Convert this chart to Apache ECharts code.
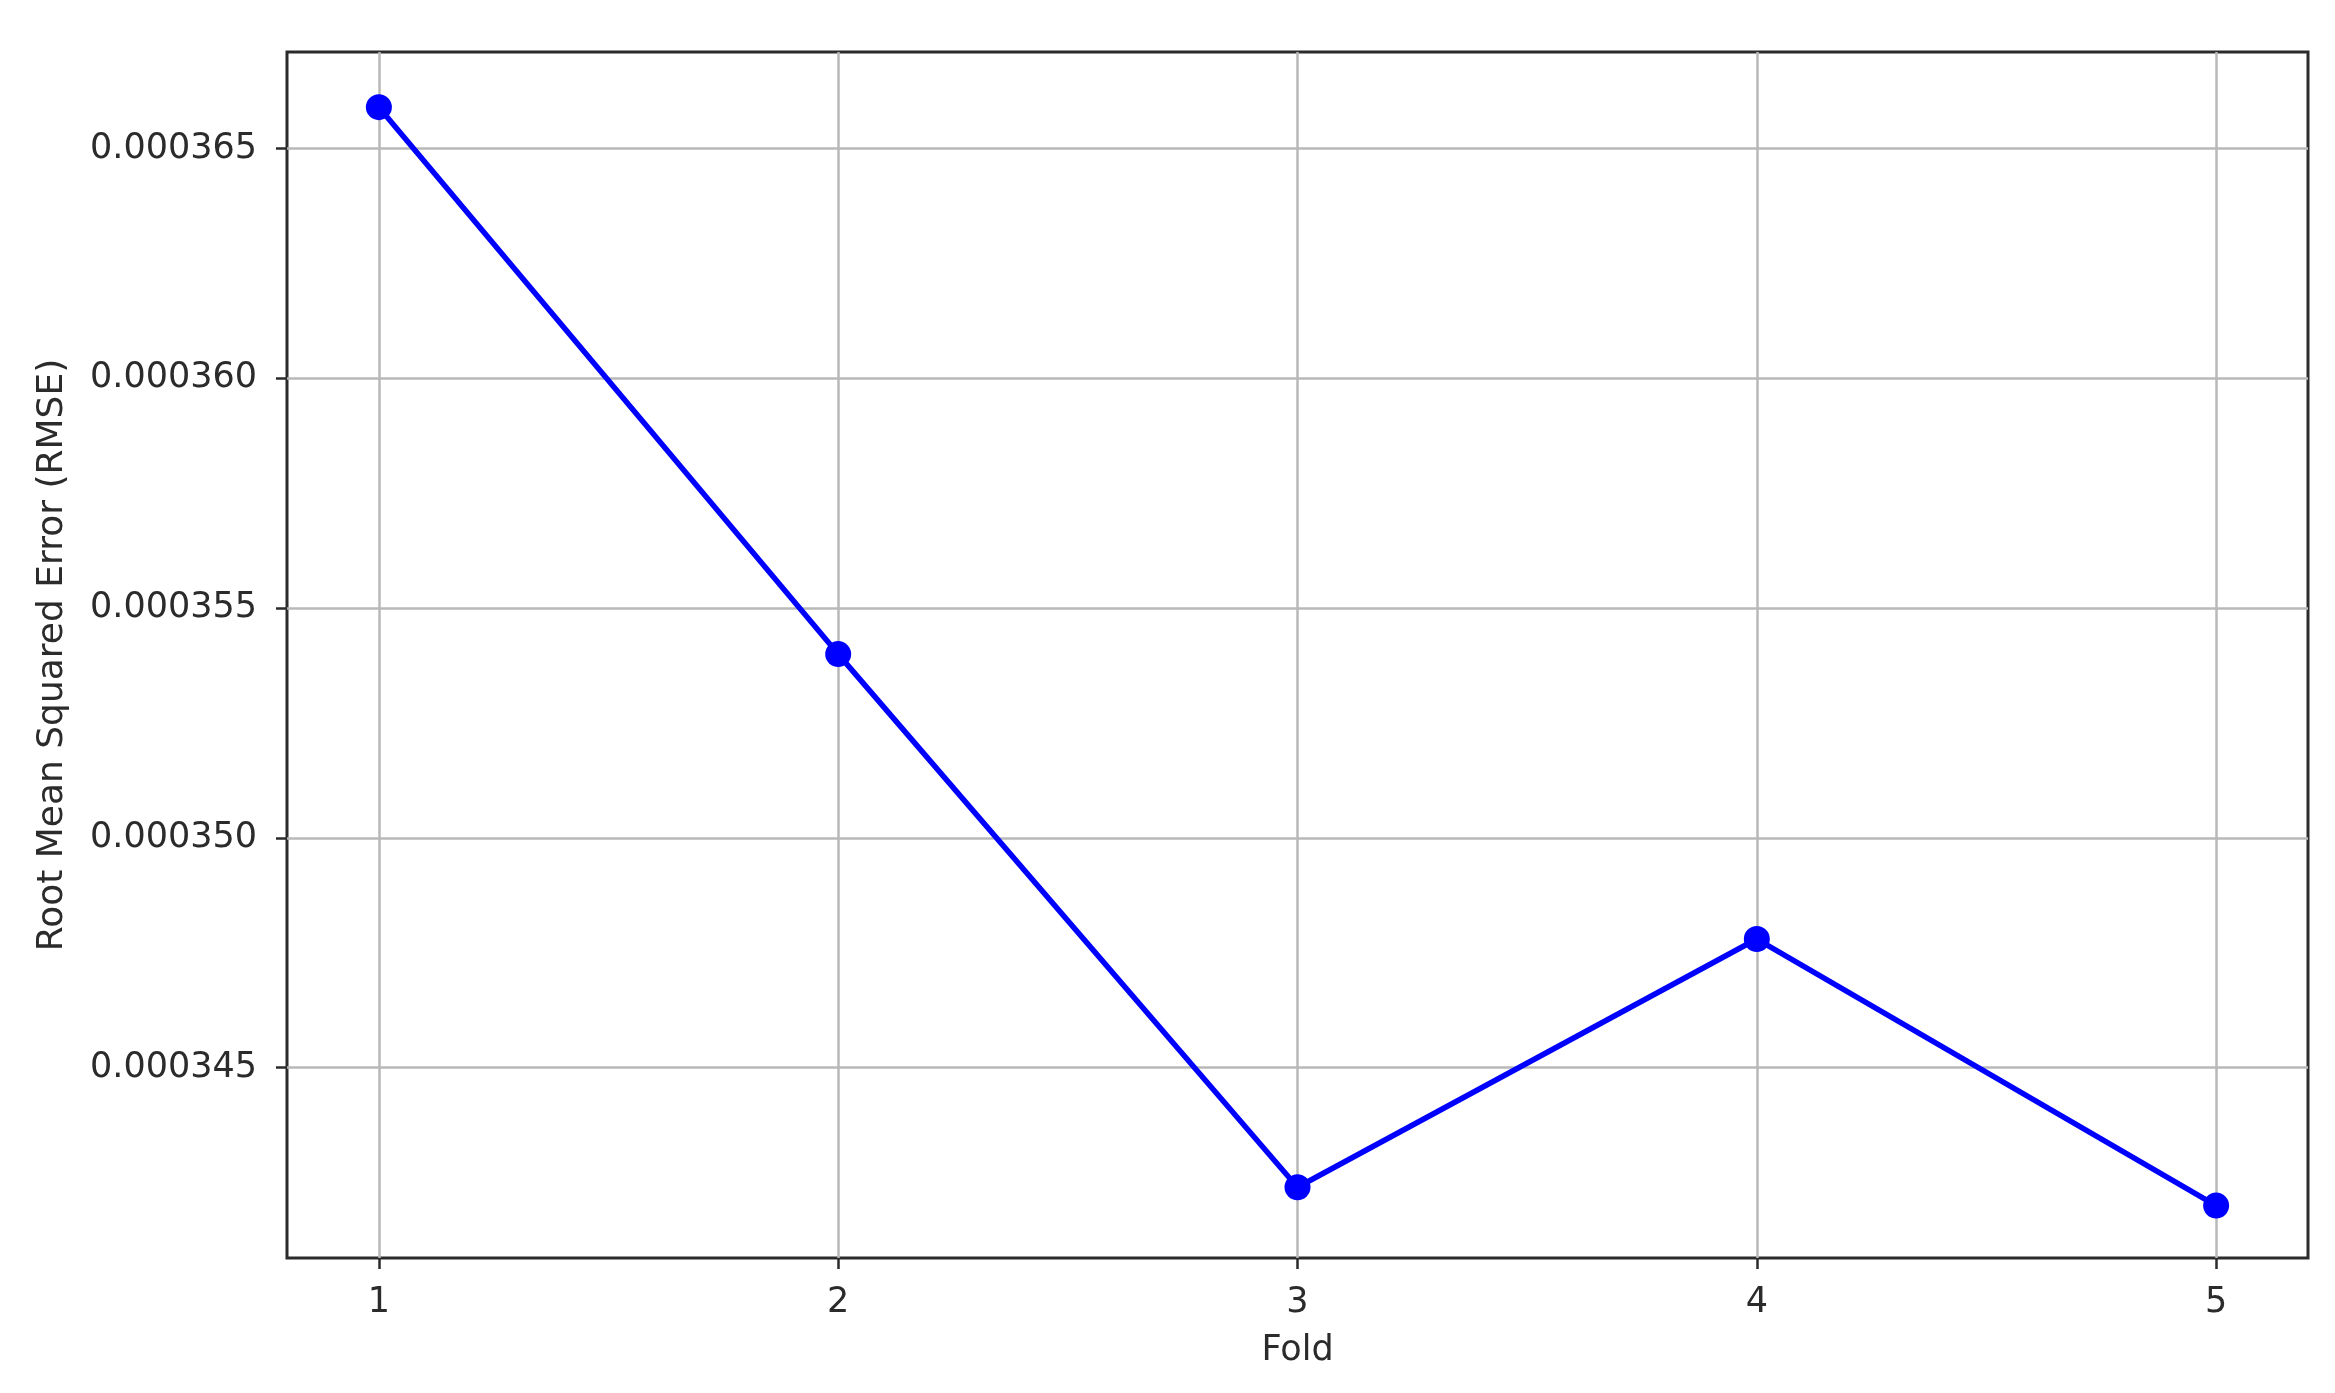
<!DOCTYPE html>
<html>
<head>
<meta charset="utf-8">
<title>RMSE per fold</title>
<script src="https://cdn.jsdelivr.net/npm/echarts@6/dist/echarts.min.js"></script>
<style>
  html, body { margin: 0; padding: 0; background: #fff; }
  #chart { width: 2335px; height: 1393px; }
</style>
</head>
<body>
<div id="chart"></div>
<script>
// fold numbers and RMSE
const folds = [1, 2, 3, 4, 5];
const rmse = [0.0003659, 0.0003540, 0.0003424, 0.0003478, 0.0003420];
const yTicks = [0.000345, 0.000350, 0.000355, 0.000360, 0.000365];

const chart = echarts.init(document.getElementById('chart'));

const textColor = '#2b2b2b';
const fontFamily = 'DejaVu Sans';

const option = {
    backgroundColor: '#fff',
    animation: false,
    grid: {
        left: 287,
        right: 27,
        top: 52,
        bottom: 135,
        show: true,
        borderColor: '#2b2b2b',
        borderWidth: 3
    },
    xAxis: {
        type: 'value',
        min: 0.8,
        max: 5.2,
        name: 'Fold',
        nameLocation: 'middle',
        nameGap: 75,
        nameTextStyle: { color: textColor, fontSize: 35, fontFamily: fontFamily },
        axisLine: { show: false },
        axisTick: {
            show: true,
            length: 11,
            customValues: folds,
            lineStyle: { color: '#2b2b2b', width: 2.5 }
        },
        axisLabel: {
            customValues: folds,
            margin: 27,
            color: textColor,
            fontSize: 35,
            fontFamily: fontFamily
        },
        splitLine: { show: true, lineStyle: { color: '#b8b8b8', width: 2.5 } }
    },
    yAxis: {
        type: 'value',
        min: 0.00034086,
        max: 0.0003671,
        name: 'Root Mean Squared Error (RMSE)',
        nameLocation: 'middle',
        nameGap: 216,
        nameTextStyle: { color: textColor, fontSize: 36, fontFamily: fontFamily },
        axisLine: { show: false },
        axisTick: {
            show: true,
            length: 11,
            customValues: yTicks,
            lineStyle: { color: '#2b2b2b', width: 2.5 }
        },
        axisLabel: {
            customValues: yTicks,
            margin: 30,
            color: textColor,
            fontSize: 35,
            fontFamily: fontFamily,
            formatter: function (v) { return v.toFixed(6); }
        },
        splitLine: { show: true, lineStyle: { color: '#b8b8b8', width: 2.5 } }
    },
    series: [
        {
            type: 'line',
            data: folds.map(function (f, i) { return [f, rmse[i]]; }),
            symbol: 'circle',
            symbolSize: 26,
            lineStyle: { color: '#0000ff', width: 5.5 },
            itemStyle: { color: '#0000ff' }
        }
    ]
};

chart.setOption(option);
</script>
</body>
</html>
